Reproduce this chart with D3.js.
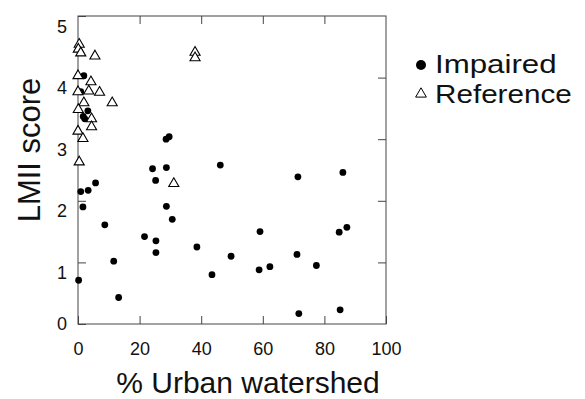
<!DOCTYPE html>
<html>
<head>
<meta charset="utf-8">
<script src="https://cdn.jsdelivr.net/npm/d3@7.9.0/dist/d3.min.js"></script>
<style>
  body { margin: 0; background: #fff; }
  svg { display: block; font-family: "Liberation Sans", Arial, sans-serif; }
</style>
</head>
<body>
<svg id="chart" width="585" height="399"></svg>
<script>
// impaired sites: % urban watershed, LMII score
const impairedX = [1.9, 0.9, 3.2, 1.7, 2.2, 28.6, 29.6, 24.2, 28.7, 25.2,
  0.9, 3.3, 5.7, 1.6, 8.7, 28.7, 30.6, 21.6, 25.3, 25.3,
  11.6, 0.2, 13.2, 38.6, 46.2, 71.4, 86.0, 59.1, 84.8, 87.3,
  49.7, 43.5, 58.8, 62.3, 71.1, 77.4, 71.7, 85.1];
const impairedY = [4.03, 3.77, 3.46, 3.37, 3.33, 3.00, 3.04, 2.52, 2.54, 2.33,
  2.15, 2.17, 2.29, 1.90, 1.61, 1.91, 1.70, 1.42, 1.35, 1.16,
  1.02, 0.71, 0.43, 1.25, 2.58, 2.39, 2.46, 1.50, 1.49, 1.57,
  1.10, 0.80, 0.88, 0.93, 1.13, 0.95, 0.17, 0.23];

// reference sites
const referenceX = [0.4, 0.1, 0.9, 5.5, 38.0, 38.0, 0, 4.2, 0, 3.5,
  7.0, 1.9, 11.1, 0.1, 4.4, 4.4, 0, 1.6, 0.4, 31.1];
const referenceY = [4.54, 4.46, 4.40, 4.35, 4.41, 4.32, 4.03, 3.93, 3.77, 3.78,
  3.76, 3.59, 3.59, 3.48, 3.33, 3.20, 3.13, 3.01, 2.63, 2.28];

const xTicks = [0, 20, 40, 60, 80, 100];
const yTicks = [0, 1, 2, 3, 4, 5];
const legendLabels = ['Impaired', 'Reference'];

const svg = d3.select('#chart');
const plotLeft = 78, plotTop = 16, plotRight = 386, plotBottom = 324;

const x = d3.scaleLinear().domain([0, 100]).range([plotLeft, plotRight]);
const y = d3.scaleLinear().domain([0, 5]).range([plotBottom, plotTop]);

const axisColor = '#444';

// frame
svg.append('rect')
  .attr('x', plotLeft).attr('y', plotTop)
  .attr('width', plotRight - plotLeft).attr('height', plotBottom - plotTop)
  .attr('fill', 'none').attr('stroke', axisColor).attr('stroke-width', 1);

function styleAxis(g) {
  g.select('.domain').remove();
  g.selectAll('line').attr('stroke', axisColor);
  g.selectAll('text').attr('fill', '#111').style('font-size', '18px');
}

svg.append('g')
  .attr('transform', `translate(0,${plotBottom})`)
  .call(d3.axisBottom(x).tickValues(xTicks).tickFormat(d3.format('d'))
    .tickSizeInner(-8).tickSizeOuter(0).tickPadding(18))
  .call(styleAxis);

// the printed labels sit a little below their ticks
svg.append('g')
  .attr('transform', `translate(${plotLeft},0)`)
  .call(d3.axisLeft(y).tickValues(yTicks).tickFormat(d3.format('d'))
    .tickSizeInner(-8).tickSizeOuter(0).tickPadding(11))
  .call(styleAxis)
  .call(g => g.selectAll('text').attr('dy', d => d === 0 ? '0.32em' : '0.9em'));

// inner ticks on top and right, no labels
svg.append('g')
  .attr('transform', `translate(0,${plotTop})`)
  .call(d3.axisTop(x).tickValues(xTicks.slice(1, -1)).tickSizeInner(-8).tickSizeOuter(0).tickFormat(''))
  .call(styleAxis);

svg.append('g')
  .attr('transform', `translate(${plotRight},0)`)
  .call(d3.axisRight(y).tickValues(yTicks.slice(1, -1)).tickSizeInner(-8).tickSizeOuter(0).tickFormat(''))
  .call(styleAxis);

const tri = d3.symbol().type(d3.symbolTriangle).size(44);

svg.append('g').selectAll('circle')
  .data(impairedX.map((d, i) => [d, impairedY[i]]))
  .join('circle')
  .attr('cx', d => x(d[0]))
  .attr('cy', d => y(d[1]))
  .attr('r', 3.4)
  .attr('fill', '#000');

svg.append('g').selectAll('path')
  .data(referenceX.map((d, i) => [d, referenceY[i]]))
  .join('path')
  .attr('d', tri)
  .attr('transform', d => `translate(${x(d[0])},${y(d[1])})`)
  .attr('fill', '#fff')
  .attr('stroke', '#000')
  .attr('stroke-width', 1.1);

// axis titles
svg.append('text')
  .attr('x', 248).attr('y', 393)
  .attr('text-anchor', 'middle')
  .style('font-size', '30px')
  .attr('fill', '#111')
  .text('% Urban watershed');

svg.append('text')
  .attr('transform', 'translate(40,150) rotate(-90)')
  .attr('text-anchor', 'middle')
  .style('font-size', '31px')
  .attr('fill', '#111')
  .text('LMII score');

// legend (the scanned lettering is wider than it is tall)
const legend = svg.append('g');
legend.append('circle').attr('cx', 421).attr('cy', 65).attr('r', 5).attr('fill', '#000');
legend.append('path')
  .attr('d', d3.symbol().type(d3.symbolTriangle).size(50))
  .attr('transform', 'translate(421,94)')
  .attr('fill', '#fff').attr('stroke', '#000').attr('stroke-width', 1);
legend.selectAll('text.lab')
  .data(legendLabels)
  .join('text')
  .attr('class', 'lab')
  .attr('x', 435)
  .attr('y', (d, i) => 73 + i * 30)
  .attr('textLength', d => d.length * 15.2)
  .attr('lengthAdjust', 'spacingAndGlyphs')
  .style('font-size', '25px')
  .attr('fill', '#111')
  .text(d => d);
</script>
</body>
</html>
